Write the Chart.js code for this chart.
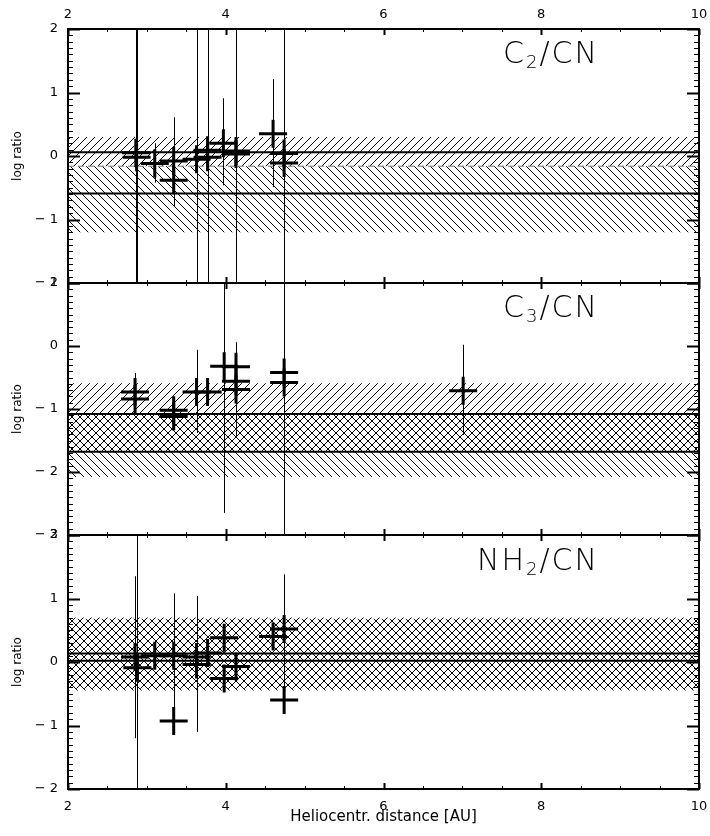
<!DOCTYPE html>
<html>
<head>
<meta charset="utf-8">
<script src="https://cdn.jsdelivr.net/npm/chart.js@4.4.0/dist/chart.umd.min.js"></script>
<style>
  body { margin: 0; background: #fff; }
  #wrap { position: relative; width: 710px; height: 836px; }
  canvas { position: absolute; left: 0; }
  .ttl { position: absolute; right: 111px; font-family: 'DejaVu Sans', sans-serif; font-weight: 200;
         font-size: 30px; line-height: 30px; letter-spacing: 2px; color: #000; white-space: nowrap; }
  .ttl sub { font-size: 18px; line-height: 0; vertical-align: -5px; }
</style>
</head>
<body>
<div id="wrap">
  <canvas id="c2cn" width="710" height="294" style="top:0"></canvas>
  <canvas id="c3cn" width="710" height="272" style="top:273px"></canvas>
  <canvas id="nh2cn" width="710" height="311" style="top:525px"></canvas>
  <div class="ttl" style="top:38px">C<sub>2</sub>/CN</div>
  <div class="ttl" style="top:292px">C<sub>3</sub>/CN</div>
  <div class="ttl" style="top:545px">NH<sub>2</sub>/CN</div>
</div>
<script>
// heliocentric distance axis
var distRange = [2, 10];

// C2/CN panel (9 = error bar runs off the panel, null = no bar)
var c2Dist   = [2.86, 2.87, 3.10, 3.34, 3.34, 3.63, 3.77, 3.77, 3.97, 4.13, 4.13, 4.60, 4.74, 4.74];
var c2Ratio  = [0.05, -0.02, -0.12, -0.08, -0.38, -0.05, 0.09, -0.02, 0.20, 0.08, 0.03, 0.35, 0.04, -0.11];
var c2ErrLo  = [-9, -9, -0.42, -0.80, null, -9, -9, null, -0.46, -9, null, -0.49, -9, null];
var c2ErrHi  = [9, 9, 0.20, 0.61, null, 9, 9, null, 0.91, 9, null, 1.21, 9, null];
var c2HatchUp   = [0.30, -0.16];
var c2HatchDown = [-0.16, -1.20];
var c2Means  = [0.06, -0.59];
var c2Dashed = [-0.16];
var c2Range  = [-2, 2];

// C3/CN panel
var c3Dist   = [2.85, 2.85, 3.34, 3.34, 3.63, 3.77, 3.98, 4.13, 4.13, 4.13, 4.74, 4.74, 7.01];
var c3Ratio  = [-0.73, -0.84, -1.02, -1.12, -0.73, -0.73, -0.32, -0.33, -0.56, -0.69, -0.42, -0.58, -0.71];
var c3ErrLo  = [-1.06, null, null, null, -1.38, null, -2.65, -1.44, null, null, -9, null, -1.41];
var c3ErrHi  = [-0.43, null, null, null, -0.06, null, 9, 0.06, null, null, 9, null, 0.02];
var c3HatchUp   = [-0.59, -1.68];
var c3HatchDown = [-1.08, -2.08];
var c3Means  = [-1.08, -1.68];
var c3Dashed = [];
var c3Range  = [-3, 1];

// NH2/CN panel
var nh2Dist  = [2.85, 2.88, 3.10, 3.34, 3.34, 3.63, 3.63, 3.77, 3.98, 3.98, 4.13, 4.60, 4.74, 4.74];
var nh2Ratio = [0.08, -0.09, 0.10, 0.10, -0.93, 0.08, -0.04, 0.14, 0.38, -0.26, -0.07, 0.40, 0.52, -0.60];
var nh2ErrLo = [-1.20, -9, null, -1.10, null, -1.10, null, null, null, null, null, null, -0.60, null];
var nh2ErrHi = [1.35, 9, null, 1.08, null, 1.04, null, null, null, null, null, null, 1.38, null];
var nh2HatchUp   = [0.70, -0.42];
var nh2HatchDown = [0.68, -0.45];
var nh2Means = [0.135, 0.02];
var nh2Dashed = [];
var nh2Range = [-2, 2];

Chart.defaults.font.family = "'DejaVu Sans', sans-serif";
Chart.defaults.font.size = 13;
Chart.defaults.color = '#000';

// crisp 1px hatch tiles
function hatch(up) {
    var c = document.createElement('canvas');
    c.width = 8; c.height = 8;
    var g = c.getContext('2d');
    g.fillStyle = '#000';
    for (var i = 0; i < 8; i++) {
        g.fillRect(i, up ? 7 - i : i, 1, 1);
    }
    return g.createPattern(c, 'repeat');
}

// frame plus inward major/minor ticks on all four sides
var frameTicks = {
    id: 'frameTicks',
    afterDraw: function (chart) {
        var ctx = chart.ctx, a = chart.chartArea;
        var x = chart.scales.x, y = chart.scales.y;
        ctx.save();
        ctx.strokeStyle = '#000';
        ctx.lineWidth = 2;
        ctx.strokeRect(a.left, a.top, a.right - a.left, a.bottom - a.top);
        var n = Math.round((y.max - y.min) * 10);
        for (var i = 0; i <= n; i++) {
            var major = i % 10 === 0;
            var len = major ? 12 : 5;
            var py = Math.round(y.getPixelForValue(y.min + i / 10)) + 0.5;
            ctx.lineWidth = major ? 2 : 1;
            ctx.beginPath();
            ctx.moveTo(a.left, py); ctx.lineTo(a.left + len, py);
            ctx.moveTo(a.right, py); ctx.lineTo(a.right - len, py);
            ctx.stroke();
        }
        var m = Math.round((x.max - x.min) * 2);
        for (var j = 0; j <= m; j++) {
            var big = j % 4 === 0;
            var l = big ? 6 : 3;
            var px = Math.round(x.getPixelForValue(x.min + j / 2)) + 0.5;
            ctx.lineWidth = big ? 2 : 1;
            ctx.beginPath();
            ctx.moveTo(px, a.top); ctx.lineTo(px, a.top + l);
            ctx.moveTo(px, a.bottom); ctx.lineTo(px, a.bottom - l);
            ctx.stroke();
        }
        ctx.restore();
    }
};

// thin vertical error bars, under the crosses
var errorBars = {
    id: 'errorBars',
    beforeDatasetDraw: function (chart, args) {
        var ds = chart.data.datasets[args.index];
        if (!ds.errLo) return;
        var ctx = chart.ctx, a = chart.chartArea;
        var x = chart.scales.x, y = chart.scales.y;
        ctx.save();
        ctx.beginPath();
        ctx.rect(a.left, a.top, a.right - a.left, a.bottom - a.top);
        ctx.clip();
        ctx.strokeStyle = '#000';
        ctx.lineWidth = 1;
        ds.data.forEach(function (p, i) {
            if (ds.errLo[i] === null) return;
            var px = Math.round(x.getPixelForValue(p.x)) + 0.5;
            ctx.beginPath();
            ctx.moveTo(px, y.getPixelForValue(ds.errLo[i]));
            ctx.lineTo(px, y.getPixelForValue(ds.errHi[i]));
            ctx.stroke();
        });
        ctx.restore();
    }
};

function hline(v, color, width, dash) {
    return {
        data: [{ x: distRange[0], y: v }, { x: distRange[1], y: v }],
        showLine: true, pointRadius: 0, fill: false,
        borderColor: color, borderWidth: width, borderDash: dash || []
    };
}

function bandSets(band, pattern) {
    var top = hline(band[0], 'rgba(0,0,0,0)', 1);
    top.fill = '+1';
    top.backgroundColor = pattern;
    return [top, hline(band[1], 'rgba(0,0,0,0)', 1)];
}

function minusLabel(v) {
    return v < 0 ? '\u2212 ' + Math.abs(v) : '' + v;
}

function noPad(s) {
    s.paddingTop = 0; s.paddingBottom = 0;
    s.paddingLeft = 0; s.paddingRight = 0;
}

function painel(id, p) {
    var pts = p.dist.map(function (d, i) { return { x: d, y: p.ratio[i] }; });
    var datasets = [{
        data: pts,
        errLo: p.errLo, errHi: p.errHi,
        pointStyle: 'cross', pointRadius: 14, pointHoverRadius: 14,
        pointBorderWidth: 3, pointBorderColor: '#000', showLine: false
    }];
    p.means.forEach(function (v) { datasets.push(hline(v, '#000', 2)); });
    p.dashed.forEach(function (v) { datasets.push(hline(v, '#7a7a7a', 1, [6, 4])); });
    datasets = datasets.concat(bandSets(p.up, hatch(true)), bandSets(p.down, hatch(false)));

    var ctx = document.getElementById(id).getContext('2d');
    var chart = new Chart(ctx, {
        type: 'scatter',
        data: { datasets: datasets },
        plugins: [errorBars, frameTicks],
        options: {
            responsive: false,
            animation: false,
            devicePixelRatio: 1,
            events: [],
            layout: { autoPadding: false, padding: { left: 0, right: 11, top: p.padTop, bottom: p.padBottom } },
            plugins: { legend: { display: false }, tooltip: { enabled: false } },
            scales: {
                x: {
                    type: 'linear', min: distRange[0], max: distRange[1],
                    display: p.xPos !== null, position: p.xPos || 'bottom',
                    grid: { display: false, drawTicks: false },
                    border: { display: false },
                    ticks: { stepSize: 2, padding: p.xPos === 'top' ? 7 : 10, maxRotation: 0 },
                    title: {
                        display: p.xPos === 'bottom', text: 'Heliocentr. distance [AU]',
                        font: { size: 15 }, padding: { top: 0, bottom: 10 }
                    },
                    afterFit: function (s) { s.height = p.xHeight; noPad(s); }
                },
                y: {
                    type: 'linear', min: p.range[0], max: p.range[1],
                    grid: { display: false, drawTicks: false },
                    border: { display: false },
                    ticks: { stepSize: 1, padding: 10, callback: minusLabel },
                    title: {
                        display: true, text: 'log ratio',
                        font: { size: 12 }, padding: { top: 11, bottom: 0 }
                    },
                    afterFit: function (s) { s.width = 68; noPad(s); }
                }
            }
        }
    });
    return chart;
}

painel('c2cn', {
    dist: c2Dist, ratio: c2Ratio, errLo: c2ErrLo, errHi: c2ErrHi,
    up: c2HatchUp, down: c2HatchDown, means: c2Means, dashed: c2Dashed,
    range: c2Range, xPos: 'top', xHeight: 29, padTop: 0, padBottom: 11
});
painel('c3cn', {
    dist: c3Dist, ratio: c3Ratio, errLo: c3ErrLo, errHi: c3ErrHi,
    up: c3HatchUp, down: c3HatchDown, means: c3Means, dashed: c3Dashed,
    range: c3Range, xPos: null, xHeight: 0, padTop: 10, padBottom: 10
});
painel('nh2cn', {
    dist: nh2Dist, ratio: nh2Ratio, errLo: nh2ErrLo, errHi: nh2ErrHi,
    up: nh2HatchUp, down: nh2HatchDown, means: nh2Means, dashed: nh2Dashed,
    range: nh2Range, xPos: 'bottom', xHeight: 47, padTop: 10, padBottom: 0
});
</script>
</body>
</html>
